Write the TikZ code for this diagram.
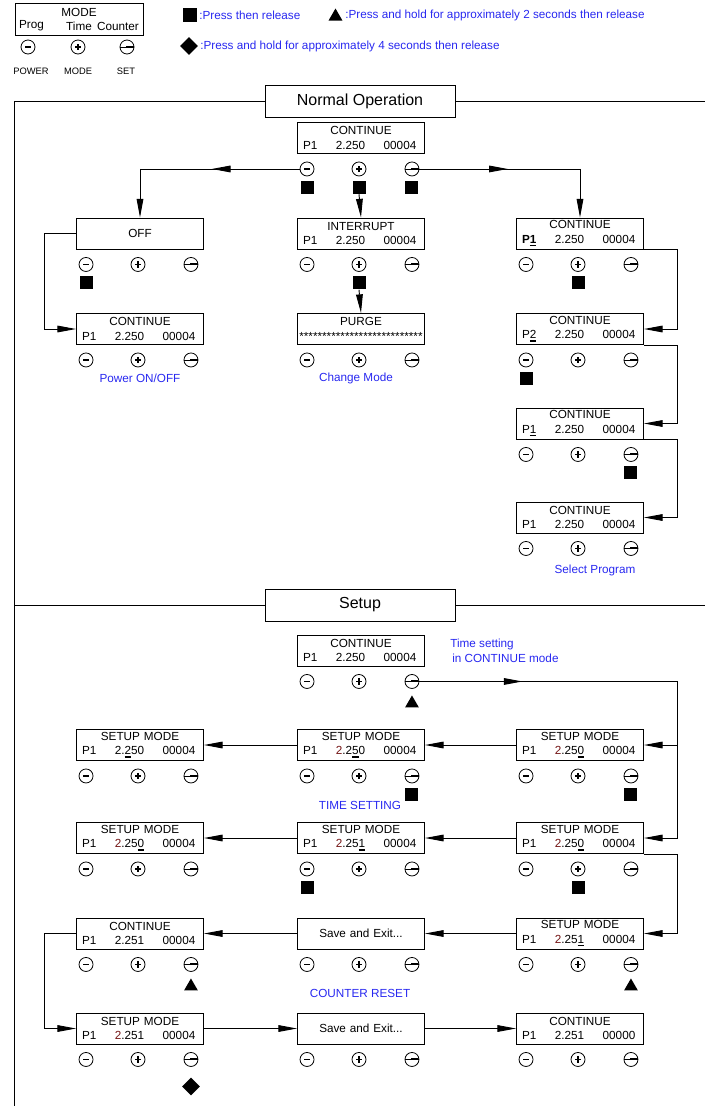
\documentclass[tikz,border=0pt]{standalone}
\usepackage{fontspec}
\setmainfont{Liberation Sans}
\usepackage{xcolor}
\definecolor{LabelBlue}{RGB}{40,40,240}
\definecolor{DigitRed}{RGB}{115,20,20}
\usetikzlibrary{shapes.geometric, arrows.meta, decorations.markings, calc}

% second line of a display: program, time, counter
\newcommand{\lcdrow}[3]{\makebox[87pt]{#1\hfill#2\hfill#3\hspace{2pt}}}
% digit under the cursor
\newcommand{\curmark}[1]{\setbox0=\hbox{#1}\rlap{\raisebox{-2.2pt}{\rule{\wd0}{1.1pt}}}\box0\relax}
% digit being edited
\newcommand{\hot}[1]{\textcolor{DigitRed}{#1}}

\tikzset{
  % LCD display
  lcd/.style={
    rectangle, draw, line width=0.7pt,
    minimum width=95.25pt, minimum height=23.25pt,
    text width=87.75pt, inner xsep=3.75pt, inner ysep=1pt,
    align=center, font=\fontsize{8.8}{10.9}\selectfont
  },
  % section title box
  header/.style={
    rectangle, draw, line width=0.7pt, fill=white,
    minimum width=142.5pt, minimum height=24pt,
    font=\fontsize{12}{14}\selectfont
  },
  % blue caption
  note/.style={font=\fontsize{8.8}{11.5}\selectfont, text=LabelBlue, inner sep=0pt},
  keytext/.style={font=\fontsize{8.8}{10}\selectfont, inner sep=0pt},
  % keys
  keybase/.style={circle, draw, line width=0.6pt, minimum size=10.5pt, inner sep=0pt},
  keyminus/.style={keybase, path picture={
    \fill ([shift={(-2.3pt,-0.65pt)}]path picture bounding box.center)
      rectangle ([shift={(2.3pt,0.65pt)}]path picture bounding box.center);}},
  keyplus/.style={keybase, path picture={
    \fill ([shift={(-2.3pt,-0.6pt)}]path picture bounding box.center)
      rectangle ([shift={(2.3pt,0.6pt)}]path picture bounding box.center);
    \fill ([shift={(-0.6pt,-2.3pt)}]path picture bounding box.center)
      rectangle ([shift={(0.6pt,2.3pt)}]path picture bounding box.center);}},
  keyset/.style={keybase, path picture={
    \draw[line width=0.6pt] (path picture bounding box.west) -- (path picture bounding box.east);
    \fill ([shift={(-1pt,-0.75pt)}]path picture bounding box.center)
      rectangle ([shift={(0pt,0.75pt)}]path picture bounding box.east);}},
  % press markers
  tapmark/.style={rectangle, fill=black, minimum size=9.75pt, inner sep=0pt},
  holdmark/.style={regular polygon, regular polygon sides=3, fill=black, minimum size=12pt, inner sep=0pt},
  longmark/.style={diamond, fill=black, minimum size=13.5pt, inner sep=0pt},
  % lines
  wire/.style={line width=0.7pt},
  arr/.style={wire, -{Triangle[length=14pt,width=5pt]}},
  midarr/.style={wire, postaction={decorate, decoration={markings,
    mark=at position #1 with {\arrow{Triangle[length=14pt,width=5pt]}}}}},
  midarr/.default=0.55,
}

% three keys under a display
\newcommand{\keypad}[1]{%
  \node[keyminus] (#1-m) at ([shift={(10,15)}]#1.south west) {};
  \node[keyplus]  (#1-p) at ([shift={(-2,15)}]#1.south) {};
  \node[keyset]   (#1-s) at ([shift={(-13,15)}]#1.south east) {};
}
\newcommand{\presstap}[1]{\node[tapmark] (#1-mk) at ([shift={(0,18.5)}]#1) {};}
\newcommand{\presshold}[1]{\node[holdmark] (#1-mk) at ([shift={(0,22)}]#1) {};}
\newcommand{\presslong}[1]{\node[longmark] (#1-mk) at ([shift={(0,27)}]#1) {};}

\begin{document}
\begin{tikzpicture}[x=0.75pt, y=-0.75pt]
  \useasboundingbox (0,0) rectangle (705,1111);

  %% Legend
  \node[rectangle, draw, line width=0.7pt, minimum width=96pt, minimum height=24pt] (modebox) at (79,19) {};
  \node[keytext] (lgmodetxt) at (79,12) {MODE};
  \node[keytext] (lgprog)    at (31.5,26) {Prog};
  \node[keytext] (lgtime)    at (79,26) {Time};
  \node[keytext] (lgcount)   at (118,26) {Counter};
  \node[keyminus] (lgpower) at (28,47) {};
  \node[keyplus]  (lgmode)  at (78,47) {};
  \node[keyset]   (lgset)   at (127,47) {};
  \node[keytext, font=\fontsize{7}{8}\selectfont] (lgpowertxt) at (31,71) {POWER};
  \node[keytext, font=\fontsize{7}{8}\selectfont] (lgmodekey)  at (78,71) {MODE};
  \node[keytext, font=\fontsize{7}{8}\selectfont] (lgsettxt)   at (126,71) {SET};

  \node[tapmark, minimum size=10.5pt] (lgtap) at (190,15) {};
  \node[note, anchor=west] (lgtaptxt) at (199,15) {:Press then release};
  \node[holdmark] (lghold) at (335.5,16.5) {};
  \node[note, anchor=west] (lgholdtxt) at (345,15) {:Press and hold for approximately 2 seconds then release};
  \node[longmark] (lglong) at (189,46) {};
  \node[note, anchor=west] (lglongtxt) at (200,46) {:Press and hold for approximately 4 seconds then release};

  %% Section frames
  \coordinate (framel) at (14,0);
  \coordinate (framer) at (705,0);
  \coordinate (framebot) at (14,1106);
  \node[header] (hdnormal) at (360,101) {Normal Operation};
  \node[header] (hdsetup)  at (360,605) {Setup};
  \draw[wire] (hdnormal.west) -- (hdnormal.west -| framel) -- (framebot);
  \draw[wire] (hdnormal.east) -- (hdnormal.east -| framer);
  \draw[wire] (hdsetup.west) -- (hdsetup.west -| framel);
  \draw[wire] (hdsetup.east) -- (hdsetup.east -| framer);

  \coordinate (lrail) at (44,0);
  \coordinate (rrail) at (677,0);

  %% Normal operation
  \node[lcd] (c0)    at (361,138)   {CONTINUE\\\lcdrow{P1}{2.250}{00004}};
  \node[lcd] (off)   at (140,233.5) {OFF};
  \node[lcd] (c1)    at (140,329)   {CONTINUE\\\lcdrow{P1}{2.250}{00004}};
  \node[lcd] (intr)  at (361,233.5) {INTERRUPT\\\lcdrow{P1}{2.250}{00004}};
  \node[lcd] (purge) at (361,329)   {PURGE\\\makebox[87pt]{***************************}};
  \node[lcd] (pg1)   at (580,233.5) {CONTINUE\\\lcdrow{\textbf{P\curmark{1}}}{2.250}{00004}};
  \node[lcd] (pg2)   at (580,329)   {CONTINUE\\\lcdrow{P\curmark{2}}{2.250}{00004}};
  \node[lcd] (pg3)   at (580,423.5) {CONTINUE\\\lcdrow{P\curmark{1}}{2.250}{00004}};
  \node[lcd] (pg4)   at (580,517.5) {CONTINUE\\\lcdrow{P1}{2.250}{00004}};

  %% Setup
  \node[lcd] (s0)  at (361,650.5)  {CONTINUE\\\lcdrow{P1}{2.250}{00004}};
  \node[lcd] (tr1) at (580,745)    {SETUP MODE\\\lcdrow{P1}{\hot{2}.25\curmark{0}}{00004}};
  \node[lcd] (tm1) at (361,745)    {SETUP MODE\\\lcdrow{P1}{\hot{2}.2\curmark{5}0}{00004}};
  \node[lcd] (tl1) at (140,745)    {SETUP MODE\\\lcdrow{P1}{2.\curmark{2}50}{00004}};
  \node[lcd] (tr2) at (580,838)    {SETUP MODE\\\lcdrow{P1}{\hot{2}.25\curmark{0}}{00004}};
  \node[lcd] (tm2) at (361,838)    {SETUP MODE\\\lcdrow{P1}{\hot{2}.25\curmark{1}}{00004}};
  \node[lcd] (tl2) at (140,838)    {SETUP MODE\\\lcdrow{P1}{\hot{2}.25\curmark{0}}{00004}};
  \node[lcd] (tr3) at (580,933.5)  {SETUP MODE\\\lcdrow{P1}{\hot{2}.25\curmark{1}}{00004}};
  \node[lcd] (tm3) at (361,933.5)  {Save and Exit...};
  \node[lcd] (tl3) at (140,933.5)  {CONTINUE\\\lcdrow{P1}{2.251}{00004}};
  \node[lcd] (tl4) at (140,1028.5) {SETUP MODE\\\lcdrow{P1}{\hot{2}.251}{00004}};
  \node[lcd] (tm4) at (361,1028.5) {Save and Exit...};
  \node[lcd] (tr4) at (580,1028.5) {CONTINUE\\\lcdrow{P1}{2.251}{00000}};

  \foreach \d in {c0,off,c1,intr,purge,pg1,pg2,pg3,pg4,
                  s0,tr1,tm1,tl1,tr2,tm2,tl2,tr3,tm3,tl3,tl4,tm4,tr4} {\keypad{\d}}

  %% Key presses
  \presstap{c0-m} \presstap{c0-p} \presstap{c0-s}
  \presstap{off-m} \presstap{intr-p}
  \presstap{pg1-p} \presstap{pg2-m} \presstap{pg3-s}
  \presshold{s0-s}
  \presstap{tr1-s} \presstap{tm1-s}
  \presstap{tr2-p} \presstap{tm2-m}
  \presshold{tr3-s} \presshold{tl3-s}
  \presslong{tl4-s}

  %% Arrows: normal operation
  \draw[midarr] (c0-m.west) -- (c0-m.west -| off.north);
  \draw[arr] (c0-m.west -| off.north) -- (off.north);
  \draw[midarr] (c0-s.east) -- (c0-s.east -| pg1.north);
  \draw[arr] (c0-s.east -| pg1.north) -- (pg1.north);
  \draw[arr] (c0-p-mk.south) -- (intr.north);
  \draw[arr] (intr-p-mk.south) -- (purge.north);
  \draw[arr] (off.west) -- (off.west -| lrail) -- (c1.west -| lrail) -- (c1.west);
  \draw[arr] (pg1.south east) -- (pg1.south east -| rrail) -- (pg2.east -| rrail) -- (pg2.east);
  \draw[arr] (pg2.south east) -- (pg2.south east -| rrail) -- (pg3.east -| rrail) -- (pg3.east);
  \draw[arr] (pg3.south east) -- (pg3.south east -| rrail) -- (pg4.east -| rrail) -- (pg4.east);

  %% Arrows: setup
  \draw[midarr=0.4] (s0-s.east) -- (s0-s.east -| rrail);
  \draw[arr] (s0-s.east -| rrail) -- (tr1.east -| rrail) -- (tr1.east);
  \draw[arr] (tr1.east -| rrail) -- (tr2.east -| rrail) -- (tr2.east);
  \draw[arr] (tr1.west) -- (tm1.east);
  \draw[arr] (tm1.west) -- (tl1.east);
  \draw[arr] (tr2.west) -- (tm2.east);
  \draw[arr] (tm2.west) -- (tl2.east);
  \draw[arr] (tr2.south east) -- (tr2.south east -| rrail) -- (tr3.east -| rrail) -- (tr3.east);
  \draw[arr] (tr3.west) -- (tm3.east);
  \draw[arr] (tm3.west) -- (tl3.east);
  \draw[arr] (tl3.west) -- (tl3.west -| lrail) -- (tl4.west -| lrail) -- (tl4.west);
  \draw[arr] (tl4.east) -- (tm4.west);
  \draw[arr] (tm4.east) -- (tr4.west);

  %% Captions
  \node[note] (pwrnote)  at (140,378) {Power ON/OFF};
  \node[note] (modenote) at (356,378) {Change Mode};
  \node[note] (prognote) at (595,570) {Select Program};
  \node[note, align=left, anchor=west] (timenote) at (450,651) {Time setting\\\hspace{1.5pt}in CONTINUE mode};
  \node[note] (timeset)  at (360,805) {TIME SETTING};
  \node[note] (cntreset) at (360,993) {COUNTER RESET};

\end{tikzpicture}
\end{document}
